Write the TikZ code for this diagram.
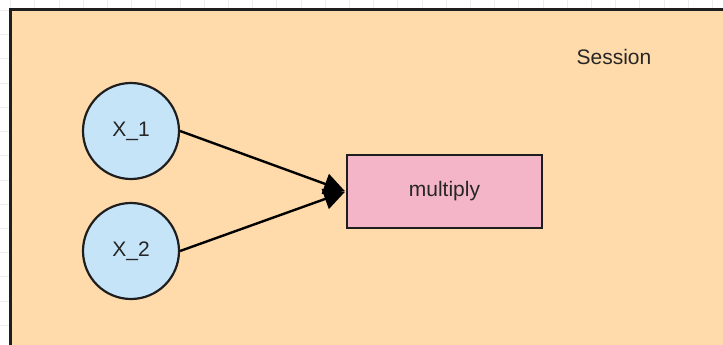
\documentclass[tikz,border=0pt]{standalone}
\usepackage{fontspec}
\setmainfont{Liberation Sans}
\usetikzlibrary{arrows.meta}
\definecolor{sessionfill}{HTML}{FFDAAA}
\definecolor{varfill}{HTML}{C6E4F8}
\definecolor{opfill}{HTML}{F4B5C9}
\definecolor{edge}{HTML}{1E1E1E}
\tikzset{
  gridline/.style={line width=0.8pt, color=black!7},
  var/.style={circle, draw=edge, line width=2.2pt, fill=varfill, minimum size=96pt, inner sep=0pt},
  op/.style={rectangle, draw=edge, line width=2.2pt, fill=opfill, minimum width=195pt, minimum height=73pt, inner sep=0pt},
  feed/.style={draw=black, line width=2.4pt, shorten >=1pt, -{Triangle[length=21pt,width=21pt]}},
}

\begin{document}
\begin{tikzpicture}[x=1pt, y=-1pt, font=\fontsize{21}{25}\selectfont, text=black!85]
		%%%%% START %%%%%
		\useasboundingbox (0, 0) rectangle (723, 345);
		\fill[white] (0, 0) rectangle (723, 345);
		
		% background grid
		\foreach \i in {0,...,29} {
			\draw[gridline] ({10.5+24.2*\i}, 0) -- ({10.5+24.2*\i}, 345);
		}
		\foreach \j in {0,...,13} {
			\draw[gridline] (0, {10.5+24.2*\j}) -- (723, {10.5+24.2*\j});
		}
		
		% session frame
		\draw[fill=sessionfill, draw=edge, line width=3pt] (10, 10) rectangle (740, 360);
		\node (session) at (614, 57) {Session};
		
		% inputs and op
		\node[var] (x1) at (131, 131) {X\_1};
		\node[var] (x2) at (131, 251) {X\_2};
		\node[op] (mult) at (444.5, 191.5) {multiply};
		
		\draw[feed] (x1.east) -- (mult.west);
		\draw[feed] (x2.east) -- (mult.west);
		%%%%% END %%%%%
	\end{tikzpicture}
\end{document}
